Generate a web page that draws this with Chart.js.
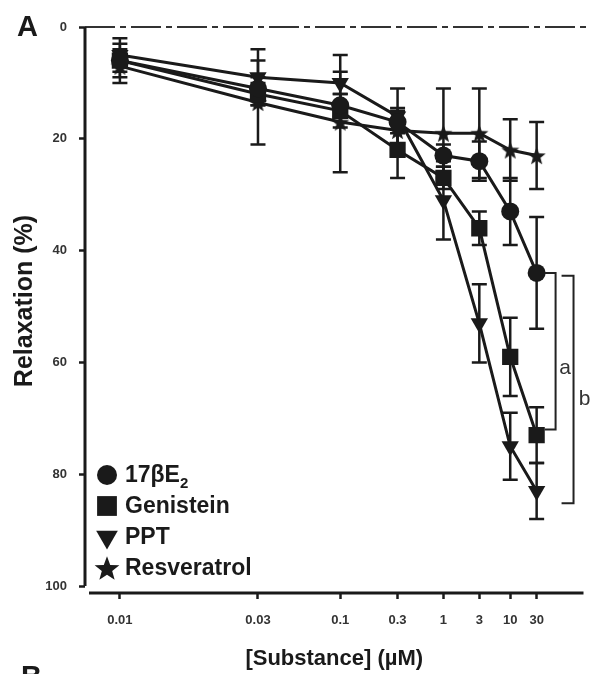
<!DOCTYPE html>
<html>
<head>
<meta charset="utf-8">
<script src="https://cdn.jsdelivr.net/npm/chart.js@4.4.1/dist/chart.umd.min.js"></script>
<style>
  body { margin: 0; background: #fff; }
  #wrap { position: relative; width: 595px; height: 674px; }
</style>
</head>
<body>
<div id="wrap"><canvas id="myChart"></canvas></div>
<script>
const doses = ['0.01', '0.03', '0.1', '0.3', '1', '3', '10', '30'];
// the dose axis is not evenly spaced: position of each dose on a 0-100 axis
const dosePos = [7, 34.7, 51.2, 62.7, 71.9, 79.1, 85.3, 90.6];
const yTicks = [0, 20, 40, 60, 80, 100];

const e2 = [6, 11, 14, 17, 23, 24, 33, 44];
const e2Err = [4, 2, 2, 2, 2, 3.5, 6, 10];
const genistein = [6, 12, 15, 22, 27, 36, 59, 73];
const genisteinErr = [2, 2, 3, 5, 2, 3, 7, 5];
const ppt = [5, 9, 10, 16, 31, 53, 75, 83];
const pptErr = [2, 5, 5, 5, 7, 7, 6, 5];
const resveratrol = [7, 13.5, 17, 18.5, 19, 19, 22, 23];
const resveratrolErr = [2, 7.5, 9, 4, 8, 8, 5.5, 6];

// significance brackets at the 30 µM end
const brackets = [
  { label: 'a', from: 44, to: 72, x: 94.4, tick: 92.2, labelX: 96.3, labelY: 61 },
  { label: 'b', from: 44.5, to: 85.2, x: 98, tick: 95.6, labelX: 100.2, labelY: 66.5 }
];

const ink = '#1a1a1a';
const fontFam = "'Liberation Sans', Arial, Helvetica, sans-serif";

function makeStar(size) {
  const c = document.createElement('canvas');
  c.width = size;
  c.height = size;
  const g = c.getContext('2d');
  g.fillStyle = ink;
  g.beginPath();
  for (let i = 0; i < 10; i++) {
    const r = i % 2 ? size * 0.21 : size / 2;
    const a = -Math.PI / 2 + i * Math.PI / 5;
    g.lineTo(size / 2 + r * Math.cos(a), size * 0.55 + r * Math.sin(a));
  }
  g.closePath();
  g.fill();
  return c;
}

const star = makeStar(19);
const bigStar = makeStar(26);

function series(label, values, errs, style, radius, rotation, legend) {
  return {
    label: label,
    data: values.map((v, i) => ({ x: dosePos[i], y: v })),
    errors: errs,
    legendStyle: legend,
    borderColor: ink,
    backgroundColor: ink,
    borderWidth: 3,
    pointStyle: style,
    pointRadius: radius,
    pointHoverRadius: radius,
    pointRotation: rotation || 0,
    pointBorderWidth: 0,
    tension: 0
  };
}

const datasets = [
  series('17βE', e2, e2Err, 'circle', 9, 0, { pointStyle: 'circle', radius: 10 }),
  series('Genistein', genistein, genisteinErr, 'rect', 11.5, 0, { pointStyle: 'rect', radius: 14 }),
  series('PPT', ppt, pptErr, 'triangle', 10, 180, { pointStyle: 'triangle', radius: 12.5, rotation: 180 }),
  series('Resveratrol', resveratrol, resveratrolErr, star, 9, 0, { pointStyle: bigStar, radius: 13 })
];

const decorations = {
  id: 'decorations',
  beforeDatasetsDraw(chart) {
    const ctx = chart.ctx;
    const xs = chart.scales.x;
    const ys = chart.scales.y;
    const area = chart.chartArea;
    ctx.save();
    // dash-dot zero line
    ctx.strokeStyle = '#333';
    ctx.lineWidth = 2;
    ctx.setLineDash([30, 5, 6, 5]);
    ctx.beginPath();
    ctx.moveTo(area.left, ys.getPixelForValue(0));
    ctx.lineTo(590, ys.getPixelForValue(0));
    ctx.stroke();
    ctx.setLineDash([]);

    // error bars
    ctx.strokeStyle = ink;
    ctx.lineWidth = 2.5;
    chart.data.datasets.forEach(ds => {
      ds.data.forEach((p, i) => {
        const e = ds.errors[i];
        const px = xs.getPixelForValue(p.x);
        const y1 = ys.getPixelForValue(p.y - e);
        const y2 = ys.getPixelForValue(p.y + e);
        ctx.beginPath();
        ctx.moveTo(px, y1);
        ctx.lineTo(px, y2);
        ctx.moveTo(px - 7.5, y1);
        ctx.lineTo(px + 7.5, y1);
        ctx.moveTo(px - 7.5, y2);
        ctx.lineTo(px + 7.5, y2);
        ctx.stroke();
      });
    });
    ctx.restore();
  },
  afterDraw(chart) {
    const ctx = chart.ctx;
    const xs = chart.scales.x;
    const ys = chart.scales.y;
    const area = chart.chartArea;
    ctx.save();
    // axis lines (detached at the corner)
    ctx.strokeStyle = ink;
    ctx.lineWidth = 3;
    ctx.beginPath();
    ctx.moveTo(area.left, ys.getPixelForValue(0));
    ctx.lineTo(area.left, ys.getPixelForValue(100));
    ctx.moveTo(area.left + 4, area.bottom);
    ctx.lineTo(area.right, area.bottom);
    ctx.stroke();

    // y axis title
    ctx.save();
    ctx.translate(25, 301);
    ctx.rotate(-Math.PI / 2);
    ctx.fillStyle = ink;
    ctx.font = 'bold 25px ' + fontFam;
    ctx.textAlign = 'center';
    ctx.textBaseline = 'middle';
    ctx.fillText('Relaxation (%)', 0, 0);
    ctx.restore();

    // brackets
    ctx.lineWidth = 2;
    ctx.strokeStyle = '#222';
    ctx.fillStyle = '#333';
    ctx.font = '21px ' + fontFam;
    ctx.textAlign = 'center';
    ctx.textBaseline = 'middle';
    brackets.forEach(b => {
      const bx = xs.getPixelForValue(b.x);
      const tx = xs.getPixelForValue(b.tick);
      const y1 = ys.getPixelForValue(b.from);
      const y2 = ys.getPixelForValue(b.to);
      ctx.beginPath();
      ctx.moveTo(tx, y1);
      ctx.lineTo(bx, y1);
      ctx.lineTo(bx, y2);
      ctx.lineTo(tx, y2);
      ctx.stroke();
      ctx.fillText(b.label, xs.getPixelForValue(b.labelX), ys.getPixelForValue(b.labelY));
    });

    // legend inside the plot, bottom left
    const rows = [475, 506, 537, 568];
    ctx.textAlign = 'left';
    ctx.textBaseline = 'middle';
    chart.data.datasets.forEach((ds, i) => {
      const st = ds.legendStyle;
      ctx.fillStyle = ink;
      Chart.helpers.drawPoint(ctx, {
        pointStyle: st.pointStyle,
        radius: st.radius,
        rotation: st.rotation || 0,
        borderWidth: 0
      }, 107, rows[i]);
      ctx.font = 'bold 23px ' + fontFam;
      ctx.fillText(ds.label, 125, rows[i] + 1);
      if (i === 0) {
        const w = ctx.measureText(ds.label).width;
        ctx.font = 'bold 15px ' + fontFam;
        ctx.fillText('2', 125 + w, rows[i] + 9);
      }
    });

    // panel letters
    ctx.font = 'bold 29px ' + fontFam;
    ctx.textBaseline = 'alphabetic';
    ctx.fillText('A', 17, 36);
    ctx.fillText('B', 21, 686);
    ctx.restore();
  }
};

new Chart(document.getElementById('myChart'), {
  type: 'line',
  data: { datasets: datasets },
  plugins: [decorations],
  options: {
    responsive: true,
    maintainAspectRatio: false,
    animation: false,
    events: [],
    layout: { padding: { top: 27, right: 8, left: 0, bottom: 0 } },
    plugins: {
      legend: { display: false },
      tooltip: { enabled: false }
    },
    elements: { point: { borderWidth: 0 } },
    scales: {
      x: {
        type: 'linear',
        min: 0,
        max: 100,
        afterBuildTicks: s => { s.ticks = dosePos.map(v => ({ value: v })); },
        afterFit: s => { s.height = 81; },
        grid: { drawOnChartArea: false, drawTicks: true, tickLength: 6, tickWidth: 2.5, tickColor: ink },
        border: { display: false },
        ticks: {
          callback: (v, i) => doses[i],
          autoSkip: false,
          maxRotation: 0,
          padding: 14,
          color: '#333',
          font: { family: fontFam, size: 13, weight: 'bold' }
        },
        title: {
          display: true,
          text: '[Substance] (µM)',
          color: ink,
          font: { family: fontFam, size: 22, weight: 'bold' },
          padding: { top: 0, bottom: 2 }
        }
      },
      y: {
        type: 'linear',
        reverse: true,
        min: 0,
        max: 101.25,
        afterBuildTicks: s => { s.ticks = yTicks.map(v => ({ value: v })); },
        afterFit: s => { s.width = 85; },
        grid: { drawOnChartArea: false, drawTicks: true, tickLength: 6, tickWidth: 2.5, tickColor: ink },
        border: { display: false },
        ticks: {
          padding: 12,
          color: '#333',
          font: { family: fontFam, size: 13, weight: 'bold' }
        },
        title: { display: false }
      }
    }
  }
});
</script>
</body>
</html>
